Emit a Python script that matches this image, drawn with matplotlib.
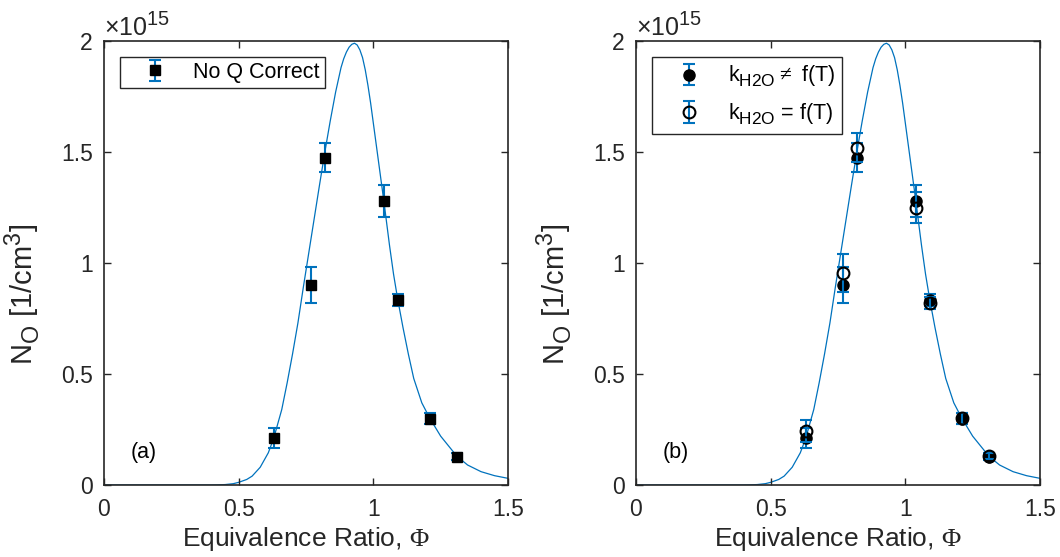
import numpy as np
import matplotlib
matplotlib.use("Agg")
import matplotlib.pyplot as plt
import matplotlib._mathtext as mt

# MATLAB-like larger, lower sub/superscripts
mt.SHRINK_FACTOR = 0.8
mt.FontConstantsBase.sub1 = 0.45

plt.rcParams['font.family'] = ['Liberation Sans', 'DejaVu Sans']
plt.rcParams['mathtext.fontset'] = 'custom'
plt.rcParams['mathtext.rm'] = 'Liberation Serif'
plt.rcParams['mathtext.sf'] = 'Liberation Sans'

# model curve (N_O in 1e15 /cm^3)
phi_fit = [0.0, 0.40, 0.42, 0.45, 0.48, 0.50, 0.53, 0.55, 0.58, 0.61, 0.63, 0.66, 0.68,
           0.70, 0.72, 0.74, 0.77, 0.80, 0.82, 0.84, 0.86, 0.88, 0.89, 0.90, 0.91,
           0.92, 0.93, 0.94, 0.95, 0.96, 0.97, 0.98, 0.99, 1.00, 1.02, 1.04, 1.06,
           1.075, 1.09, 1.11, 1.13, 1.15, 1.18, 1.21, 1.25, 1.31, 1.35, 1.40, 1.45, 1.50]
no_fit = [0.0, 0.0, 0.0005, 0.002, 0.006, 0.012, 0.025, 0.04, 0.08, 0.145, 0.21, 0.34, 0.46,
          0.59, 0.73, 0.89, 1.12, 1.35, 1.50, 1.64, 1.77, 1.88, 1.92, 1.95, 1.972,
          1.985, 1.99, 1.982, 1.96, 1.925, 1.87, 1.80, 1.72, 1.63, 1.45, 1.27, 1.08,
          0.95, 0.84, 0.71, 0.59, 0.48, 0.37, 0.30, 0.22, 0.13, 0.09, 0.06, 0.042, 0.03]

# measurements
phi = [0.63, 0.77, 0.82, 1.04, 1.09, 1.21, 1.31]
no_noq = [0.21, 0.90, 1.474, 1.279, 0.833, 0.299, 0.128]
err_noq = [0.045, 0.08, 0.066, 0.072, 0.026, 0.025, 0.015]
no_kt = [0.245, 0.955, 1.52, 1.25, 0.82, 0.30, 0.13]
err_kt = [0.05, 0.085, 0.065, 0.07, 0.025, 0.025, 0.015]

blue = '#0072BD'
dark = '#262626'
fs_tick = 16.5
fs_lab = 19
fs_leg = 15.5

fig = plt.figure(figsize=(10.6, 5.57), dpi=100)
axl = fig.add_axes([104/1060, 72/557, 404/1060, 444/557])
axr = fig.add_axes([636/1060, 72/557, 404/1060, 444/557])


def style(ax, tag):
    ax.plot(phi_fit, no_fit, color=blue, lw=0.9, zorder=1)
    ax.set_xlim(0, 1.5)
    ax.set_ylim(0, 2)
    ax.set_xticks([0, 0.5, 1, 1.5])
    ax.set_xticklabels(['0', '0.5', '1', '1.5'])
    ax.set_yticks([0, 0.5, 1, 1.5, 2])
    ax.set_yticklabels(['0', '0.5', '1', '1.5', '2'])
    ax.tick_params(direction='in', top=True, right=True, length=5, width=1,
                   colors=dark, labelsize=fs_tick)
    ax.tick_params(axis='x', pad=9)
    ax.tick_params(axis='y', pad=8)
    for s in ax.spines.values():
        s.set_color(dark)
        s.set_linewidth(1.2)
    ax.set_xlabel(r'Equivalence Ratio, $\Phi$', fontsize=fs_lab, color=dark, labelpad=3)
    ax.set_ylabel(r'N$_\mathsf{O}$ [1/cm$^\mathsf{3}$]', fontsize=21, color=dark)
    ax.yaxis.set_label_coords(-0.15, 0.43)
    ax.text(0, 1.0, r'$\mathsf{\times 10^{15}}$', transform=ax.transAxes,
            fontsize=18, color=dark, va='bottom', ha='left')
    ax.text(0.065, 0.06, tag, transform=ax.transAxes, fontsize=15.5, color='k')


style(axl, '(a)')
style(axr, '(b)')

e1 = axl.errorbar(phi, no_noq, yerr=err_noq, fmt='s', color='k', ecolor=blue,
                  elinewidth=1.5, capsize=4.5, capthick=1.5, ms=7.5, zorder=3)
axl.legend([e1], ['No Q Correct'], loc='upper left', bbox_to_anchor=(0.04, 0.965),
           fontsize=fs_leg, frameon=True, fancybox=False, edgecolor=dark,
           framealpha=1, borderpad=0.25, handletextpad=0.45, borderaxespad=0,
           handlelength=2.7)

e2 = axr.errorbar(phi, no_noq, yerr=err_noq, fmt='o', color='k', ecolor=blue,
                  elinewidth=1.5, capsize=4.5, capthick=1.5, ms=8, zorder=3)
e3 = axr.errorbar(phi, no_kt, yerr=err_kt, fmt='o', mfc='none', mec='k', mew=1.5,
                  ecolor=blue, elinewidth=1.5, capsize=4.5, capthick=1.5, ms=8.5, zorder=4)
axr.legend([e2, e3], [r'k$_\mathsf{H2O}$$\neq$ f(T)', r'k$_\mathsf{H2O}$ = f(T)'],
           loc='upper left', bbox_to_anchor=(0.04, 0.965),
           fontsize=fs_leg, frameon=True, fancybox=False, edgecolor=dark,
           framealpha=1, borderpad=0.35, handletextpad=0.45, borderaxespad=0,
           labelspacing=0.55, handlelength=2.7)

fig.savefig('out.png', dpi=100)
